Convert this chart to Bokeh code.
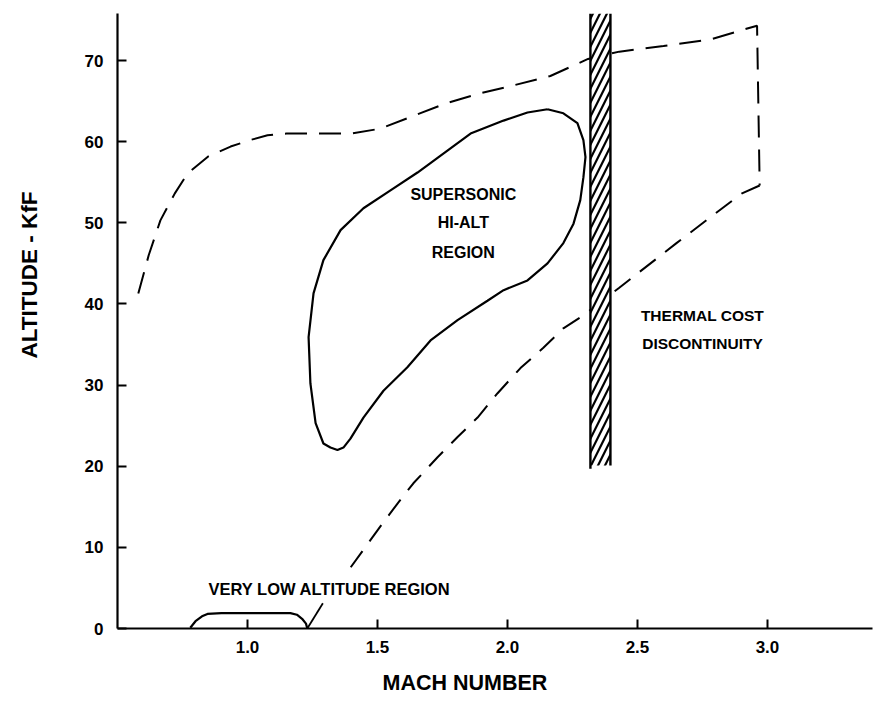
from bokeh.plotting import figure
from bokeh.models import Range1d, FixedTicker, Label, Title
from bokeh.embed import file_html
from bokeh.resources import INLINE

FONT = "Liberation Sans"

# ---- data (Mach number, altitude kft) ----
x_ticks = [1.0, 1.5, 2.0, 2.5, 3.0]
x_tick_labels = ["1.0", "1.5", "2.0", "2.5", "3.0"]
y_ticks = [0, 10, 20, 30, 40, 50, 60, 70]

# upper dashed envelope, including right vertical edge
env_upper_x = [0.58, 0.62, 0.665, 0.72, 0.77, 0.85, 0.935, 1.01, 1.077, 1.15, 1.25, 1.40, 1.51,
               1.64, 1.77, 1.90, 2.03, 2.165, 2.31, 2.43, 2.60, 2.78, 2.96, 2.97]
env_upper_y = [41.3, 46.0, 50.3, 53.6, 56.1, 58.2, 59.4, 60.2, 60.8, 61.0, 61.0, 61.0, 61.6,
               63.2, 64.8, 66.0, 67.0, 68.1, 70.2, 71.1, 71.8, 72.6, 74.3, 54.6]
# lower dashed boundary
env_lower_x = [2.97, 2.90, 2.65, 2.43, 2.292, 2.215, 2.138, 2.050, 1.962, 1.885, 1.808,
               1.731, 1.638, 1.577, 1.500, 1.396]
env_lower_y = [54.6, 53.6, 47.5, 42.0, 38.6, 37.0, 34.6, 32.1, 29.0, 26.0, 23.6,
               21.1, 17.9, 15.4, 12.1, 7.5]
env_tail_x = [1.29, 1.23]
env_tail_y = [3.1, 0.0]

# supersonic hi-alt region (closed)
sup_x = [2.154, 2.215, 2.269, 2.292, 2.300, 2.292, 2.280, 2.254, 2.215, 2.154, 2.077, 1.985,
         1.923, 1.808, 1.704, 1.615, 1.523, 1.446, 1.396, 1.369, 1.346, 1.319, 1.292, 1.262,
         1.242, 1.235, 1.254, 1.292, 1.358, 1.446, 1.550, 1.654, 1.769, 1.858, 1.985, 2.077,
         2.154]
sup_y = [64.0, 63.5, 62.3, 60.2, 58.1, 55.6, 52.8, 49.9, 47.5, 45.0, 42.9, 41.7,
         40.4, 38.0, 35.5, 32.2, 29.3, 26.0, 23.4, 22.3, 22.0, 22.3, 22.8, 25.3,
         30.2, 35.9, 41.3, 45.4, 49.1, 51.8, 54.0, 56.2, 58.9, 61.0, 62.6, 63.6,
         64.0]

# very low altitude region
low_x = [0.78, 0.80, 0.825, 0.846, 0.90, 1.165, 1.19, 1.21, 1.225, 1.23]
low_y = [0.1, 0.9, 1.5, 1.8, 1.9, 1.9, 1.7, 1.2, 0.6, 0.0]

# thermal cost discontinuity band
band_left, band_right = 2.319, 2.396
band_bottom, band_top = 20.1, 75.8

p = figure(width=875, height=701, output_backend="svg", toolbar_location=None,
           x_range=Range1d(0.5, 3.404), y_range=Range1d(0, 75.8),
           min_border_left=117, min_border_right=3, min_border_top=13, min_border_bottom=73)
p.outline_line_color = None
p.grid.visible = False
p.background_fill_color = "white"
p.border_fill_color = "white"

for ax in (p.xaxis[0], p.yaxis[0]):
    ax.axis_line_width = 2.2
    ax.axis_line_color = "black"
    ax.major_tick_in = 9
    ax.major_tick_out = 0
    ax.major_tick_line_width = 2
    ax.major_tick_line_color = "black"
    ax.minor_tick_line_color = None
    ax.major_label_text_font = FONT
    ax.major_label_text_font_style = "bold"
    ax.major_label_text_font_size = "17px"
    ax.major_label_text_color = "black"
    # blank spacer label to push the axis titles outward
    ax.axis_label = " "
    ax.axis_label_text_font_size = "4px"

p.xaxis[0].ticker = FixedTicker(ticks=x_ticks)
p.xaxis[0].major_label_overrides = {t: l for t, l in zip(x_ticks, x_tick_labels)}
p.xaxis[0].major_label_standoff = 12
p.xaxis[0].axis_label_standoff = 7
p.yaxis[0].ticker = FixedTicker(ticks=y_ticks)
p.yaxis[0].major_label_standoff = 14
p.yaxis[0].axis_label_standoff = 27

# axis titles
p.add_layout(Title(text="MACH NUMBER", align="left", offset=265, standoff=0,
                   vertical_align="top",
                   text_font=FONT, text_font_style="bold", text_font_size="21.5px",
                   text_color="black"), "below")
p.add_layout(Title(text="ALTITUDE - KfF", align="left", offset=270, standoff=10,
                   text_font=FONT, text_font_style="bold", text_font_size="22.5px",
                   text_color="black"), "left")

# curves
p.line(env_upper_x, env_upper_y, line_color="black", line_width=2, line_dash="22 12")
p.line(env_lower_x, env_lower_y, line_color="black", line_width=2, line_dash="20 12")
p.line(env_tail_x, env_tail_y, line_color="black", line_width=1.8)
p.line(sup_x, sup_y, line_color="black", line_width=2.2)
p.line(low_x, low_y, line_color="black", line_width=2.2)

# hatched band
p.quad(left=[band_left], right=[band_right], bottom=[band_bottom], top=[band_top],
       fill_color="white", fill_alpha=1.0, line_color=None,
       hatch_pattern="/", hatch_color="black", hatch_weight=2.2, hatch_scale=14)
p.segment(x0=[band_left, band_right], y0=[band_bottom - 0.4, band_bottom],
          x1=[band_left, band_right], y1=[band_top, band_top],
          line_color="black", line_width=2.4)

def lab(x, y, t, size, align="center"):
    p.add_layout(Label(x=x, y=y, text=t, text_font=FONT, text_font_style="bold",
                       text_font_size=size, text_align=align, text_baseline="middle",
                       text_color="black"))

lab(1.83, 53.5, "SUPERSONIC", "16px")
lab(1.83, 50.1, "HI-ALT", "16px")
lab(1.83, 46.4, "REGION", "16px")
lab(2.75, 38.6, "THERMAL COST", "15.5px")
lab(2.75, 35.1, "DISCONTINUITY", "15.5px")
lab(0.85, 4.9, "VERY LOW ALTITUDE REGION", "16.5px", align="left")

open("out.html", "w").write(file_html(p, INLINE))
